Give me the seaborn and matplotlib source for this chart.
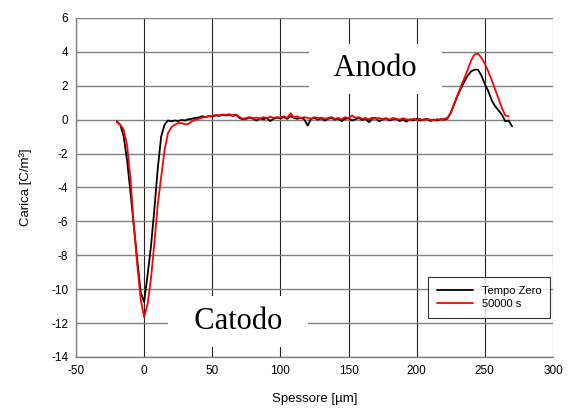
import numpy as np
import pandas as pd
import matplotlib
matplotlib.use("Agg")
import matplotlib.pyplot as plt
import seaborn as sns

# charge profiles, sampled every 2.5 um starting at -20 um
x_start = -20.0
x_step = 2.5

tempo_zero = [
    -0.10, -0.30, -1.00, -2.40, -4.30, -6.30, -8.30, -10.20, -10.75, -9.20,   # -20 .. 2.5
    -7.50, -5.30, -2.90, -1.00, -0.30, -0.05, -0.10, -0.05, -0.08, -0.02,     # 5 .. 27.5
    -0.05, 0.02, 0.05, 0.10, 0.12, 0.20, 0.15, 0.20, 0.18, 0.25,              # 30 .. 52.5
    0.22, 0.28, 0.25, 0.30, 0.22, 0.28, 0.10, 0.02, 0.05, 0.12,               # 55 .. 77.5
    0.05, -0.05, 0.08, 0.02, 0.10, -0.08, 0.05, 0.12, 0.08, 0.15,             # 80 .. 102.5
    0.05, 0.20, 0.10, 0.05, 0.12, 0.02, -0.35, 0.05, 0.10, 0.00,              # 105 .. 127.5
    0.08, -0.05, 0.05, 0.10, 0.00, 0.05, -0.08, 0.05, 0.08, -0.05,            # 130 .. 152.5
    0.02, 0.10, -0.02, 0.05, -0.15, 0.05, 0.10, -0.10, 0.00, 0.08,            # 155 .. 177.5
    -0.05, 0.02, 0.05, -0.08, 0.00, -0.12, 0.02, -0.05, 0.05, -0.05,          # 180 .. 202.5
    0.00, 0.05, -0.08, 0.00, -0.05, 0.02, 0.00, 0.05, 0.40, 0.90,             # 205 .. 227.5
    1.40, 1.85, 2.25, 2.60, 2.85, 2.95, 2.95, 2.60, 2.10, 1.70,               # 230 .. 252.5
    1.15, 0.80, 0.55, 0.30, -0.10, -0.05, -0.40,                              # 255 .. 270
]

s50000 = [
    -0.15, -0.30, -0.60, -1.50, -3.50, -6.30, -8.60, -10.60, -11.65, -10.90,  # -20 .. 2.5
    -9.40, -7.30, -5.00, -3.40, -1.80, -0.80, -0.45, -0.30, -0.20, -0.20,     # 5 .. 27.5
    -0.28, -0.25, -0.10, 0.00, 0.05, 0.12, 0.15, 0.20, 0.22, 0.28,            # 30 .. 52.5
    0.25, 0.30, 0.28, 0.32, 0.25, 0.30, 0.15, 0.05, 0.10, 0.15,               # 55 .. 77.5
    0.08, 0.12, 0.05, 0.15, 0.08, 0.18, 0.10, 0.15, 0.12, 0.20,               # 80 .. 102.5
    0.10, 0.38, 0.12, 0.20, 0.08, 0.15, 0.10, 0.05, 0.15, 0.08,               # 105 .. 127.5
    0.12, 0.05, 0.10, 0.15, 0.05, 0.10, 0.02, 0.15, 0.08, 0.25,               # 130 .. 152.5
    0.10, 0.15, 0.05, 0.10, 0.02, 0.12, 0.05, 0.10, 0.02, 0.08,               # 155 .. 177.5
    0.00, 0.10, 0.05, 0.00, 0.08, 0.02, -0.02, 0.05, 0.00, 0.05,              # 180 .. 202.5
    -0.05, 0.02, 0.00, -0.05, 0.03, 0.00, 0.05, 0.10, 0.40, 0.95,             # 205 .. 227.5
    1.45, 1.95, 2.45, 2.95, 3.50, 3.85, 3.90, 3.65, 3.30, 2.85,               # 230 .. 252.5
    2.35, 1.80, 1.25, 0.70, 0.25, 0.20,                                       # 255 .. 267.5
]

series_names = ["Tempo Zero", "50000 s"]
colors = ["#000000", "#ff0000"]

frames = []
for name, vals in zip(series_names, [tempo_zero, s50000]):
    xs = x_start + x_step * np.arange(len(vals))
    frames.append(pd.DataFrame({"Spessore": xs, "Carica": vals, "serie": name}))
df = pd.concat(frames, ignore_index=True)

sns.set_style("white")
plt.rcParams["font.family"] = ["Liberation Sans", "DejaVu Sans"]
plt.rcParams["axes.unicode_minus"] = False
plt.rcParams["text.color"] = "black"
plt.rcParams["axes.labelcolor"] = "black"

fig = plt.figure(figsize=(5.73, 4.17), dpi=100)
ax = fig.add_axes([0.1326, 0.144, 0.8324, 0.813])

sns.lineplot(data=df, x="Spessore", y="Carica", hue="serie", hue_order=series_names,
             palette=colors, estimator=None, sort=False, linewidth=1.3, ax=ax)

ax.set_xlim(-50, 300)
ax.set_ylim(-14, 6)
ax.set_xticks(np.arange(-50, 301, 50))
ax.set_yticks(np.arange(-14, 7, 2))

# grid
for xv in np.arange(-50, 301, 50):
    ax.axvline(xv, color="#222222", lw=0.8, zorder=0)
for yv in np.arange(-14, 7, 2):
    ax.axhline(yv, color="#808080", lw=1.0, zorder=0)

for side in ["top", "right"]:
    ax.spines[side].set_visible(False)
for side in ["left", "bottom"]:
    ax.spines[side].set_color("#808080")
    ax.spines[side].set_linewidth(1.0)
ax.tick_params(direction="inout", length=7, width=1.0, color="#808080",
               labelcolor="black", labelsize=8.5, pad=2)

ax.set_xlabel("Spessore [µm]", fontsize=9.5, labelpad=12)
ax.set_ylabel("Carica [C/m³]", fontsize=9.5, labelpad=14)

box = dict(boxstyle="square,pad=0.35", facecolor="white", edgecolor="none")
ax.text(170, 3.0, "  Anodo  ", fontsize=22, family="Liberation Serif",
        ha="center", va="center", bbox=box, zorder=3)
ax.text(69, -11.9, "  Catodo  ", fontsize=22, family="Liberation Serif",
        ha="center", va="center", bbox=box, zorder=3)

leg = ax.legend(loc="lower right", bbox_to_anchor=(0.994, 0.115), fontsize=8,
                frameon=True, fancybox=False, handlelength=3.2, borderpad=0.8,
                labelspacing=0.3, borderaxespad=0)
leg.get_frame().set_edgecolor("#000000")
leg.get_frame().set_linewidth(0.8)
leg.set_zorder(4)

fig.savefig("out.png", dpi=100)
